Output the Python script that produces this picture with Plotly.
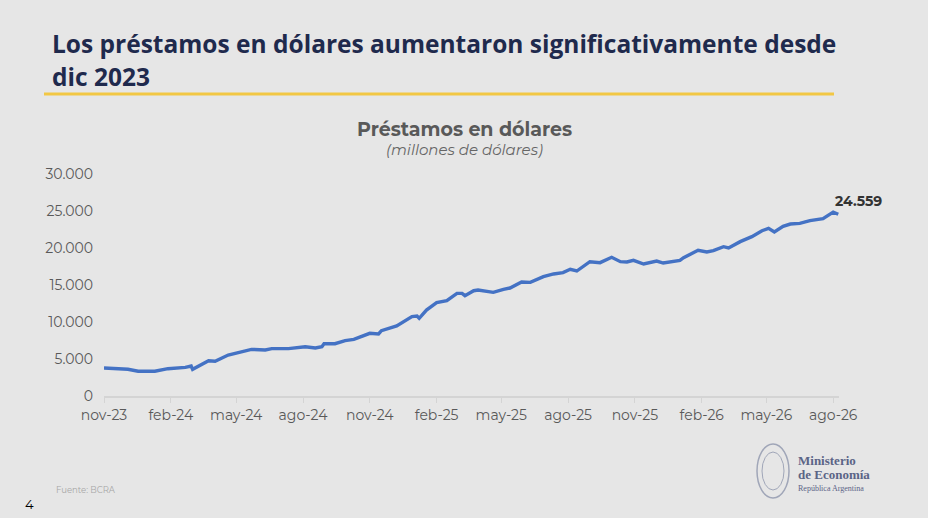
import plotly.graph_objects as go

# Préstamos en dólares (millones de USD)
fechas = [
    "2023-11-01", "2023-11-15", "2023-12-04", "2023-12-18", "2024-01-10", "2024-01-28",
    "2024-02-21", "2024-02-29", "2024-03-02", "2024-03-24", "2024-04-02", "2024-04-20",
    "2024-05-04", "2024-05-22", "2024-06-10", "2024-06-19", "2024-07-12", "2024-08-04",
    "2024-08-18", "2024-08-27", "2024-08-30", "2024-09-14", "2024-09-28", "2024-10-10",
    "2024-11-01", "2024-11-13", "2024-11-17", "2024-12-08", "2024-12-29", "2025-01-05",
    "2025-01-08", "2025-01-18", "2025-02-01", "2025-02-15", "2025-03-01", "2025-03-08",
    "2025-03-12", "2025-03-24", "2025-03-30", "2025-04-20", "2025-05-04", "2025-05-13",
    "2025-05-29", "2025-06-10", "2025-06-28", "2025-07-12", "2025-07-25", "2025-08-04",
    "2025-08-13", "2025-08-31", "2025-09-14", "2025-09-30", "2025-10-12", "2025-10-21",
    "2025-10-30", "2025-11-13", "2025-12-01", "2025-12-10", "2026-01-02", "2026-01-07",
    "2026-01-27", "2026-02-08", "2026-02-17", "2026-03-03", "2026-03-10", "2026-03-26",
    "2026-04-11", "2026-04-25", "2026-05-04", "2026-05-12", "2026-05-24", "2026-06-03",
    "2026-06-16", "2026-06-30", "2026-07-18", "2026-08-01", "2026-08-08",
]
prestamos = [
    3780, 3720, 3610, 3340, 3340, 3690,
    3870, 4050, 3600, 4770, 4690, 5540,
    5900, 6300, 6220, 6400, 6400, 6660,
    6490, 6660, 7070, 7070, 7480, 7650,
    8470, 8380, 8830, 9460, 10720, 10810,
    10500, 11620, 12610, 12880, 13870, 13870,
    13560, 14230, 14320, 14010, 14410, 14590,
    15400, 15360, 16130, 16490, 16670, 17120,
    16890, 18150, 18020, 18740, 18150, 18110,
    18330, 17840, 18240, 17970, 18330, 18690,
    19690, 19460, 19640, 20180, 20000, 20860,
    21530, 22340, 22660, 22160, 22930, 23240,
    23330, 23690, 23960, 24850, 24559,
]

tick_fechas = ["2023-11-01", "2024-02-01", "2024-05-01", "2024-08-01", "2024-11-01",
               "2025-02-01", "2025-05-01", "2025-08-01", "2025-11-01", "2026-02-01",
               "2026-05-01", "2026-08-01"]
tick_textos = ["nov-23", "feb-24", "may-24", "ago-24", "nov-24", "feb-25",
               "may-25", "ago-25", "nov-25", "feb-26", "may-26", "ago-26"]

FONDO = "#E6E6E6"
AZUL = "#4472C4"
GRIS = "#595959"
LOGO = "#5B6486"

W, H = 928, 518
ML, MR, MT, MB = 104, 89, 174, 122


# helpers: page pixels -> paper coords
def px(x):
    return (x - ML) / (W - ML - MR)


def py(y):
    return (H - MB - y) / (H - MT - MB)


fig = go.Figure()
fig.add_trace(go.Scatter(
    x=fechas, y=prestamos, mode="lines",
    line=dict(color=AZUL, width=3.4),
    hoverinfo="skip", showlegend=False,
))

# último valor
fig.add_annotation(
    x=fechas[-1], y=prestamos[-1], text="<b>24.559</b>",
    showarrow=False, xanchor="left", yanchor="middle",
    xshift=-5, yshift=13, font=dict(size=14, color="#333333"),
)


def texto(x, y, s, size, color, family=None, xanchor="left"):
    fig.add_annotation(
        xref="paper", yref="paper", x=px(x), y=py(y), xanchor=xanchor,
        yanchor="middle", showarrow=False, text=s,
        font=dict(size=size, color=color, family=family),
    )


# títulos
texto(50, 43, "<b>Los préstamos en dólares aumentaron significativamente desde</b>",
      24.5, "#1F2A4D", "Open Sans")
texto(50, 76, "<b>dic 2023</b>", 24.5, "#1F2A4D", "Open Sans")
fig.add_shape(type="line", xref="paper", yref="paper", x0=px(44), x1=px(834),
              y0=py(94), y1=py(94), line=dict(color="#F2C744", width=3))
texto(464, 129, "<b>Préstamos en dólares</b>", 19, GRIS, xanchor="center")
texto(464, 149, "<i>(millones de dólares)</i>", 15, "#666666", xanchor="center")

# pie
texto(54, 490, "Fuente: BCRA", 8.5, "#A6A6A6")
texto(23, 504, "4", 13, "#000000")

# logo ministerio
fig.add_shape(type="circle", xref="paper", yref="paper",
              x0=px(757), x1=px(789), y0=py(498), y1=py(444),
              line=dict(color="#A0A6B8", width=1.5))
fig.add_shape(type="circle", xref="paper", yref="paper",
              x0=px(762), x1=px(784), y0=py(490), y1=py(452),
              line=dict(color="#A0A6B8", width=1))
texto(796, 460, "<b>Ministerio</b>", 13, LOGO, "Liberation Serif")
texto(796, 474, "<b>de Economía</b>", 13, LOGO, "Liberation Serif")
texto(796, 488, "República Argentina", 8, LOGO, "Liberation Serif")

fig.update_layout(
    width=W, height=H,
    margin=dict(l=ML, r=MR, t=MT, b=MB),
    paper_bgcolor=FONDO, plot_bgcolor=FONDO,
    font=dict(family="Montserrat, Open Sans, sans-serif", color=GRIS),
    separators=",.",
    xaxis=dict(
        type="date", range=["2023-11-01", "2026-08-09"],
        tickvals=tick_fechas, ticktext=tick_textos,
        showgrid=False, zeroline=False,
        showline=True, linecolor="#D4D4D4", linewidth=1.5,
        ticks="outside", tickcolor="#D4D4D4", ticklen=5,
        tickfont=dict(size=14, color=GRIS),
    ),
    yaxis=dict(
        range=[0, 30000], dtick=5000, tickformat=",d",
        showgrid=False, zeroline=False, showline=False,
        tickfont=dict(size=14, color=GRIS), ticklabelstandoff=10,
    ),
)

fig.write_html(
    "out.html",
    config={"displayModeBar": False},
    post_script="document.body.style.margin='0';"
                "document.body.style.background='#E6E6E6';",
)
